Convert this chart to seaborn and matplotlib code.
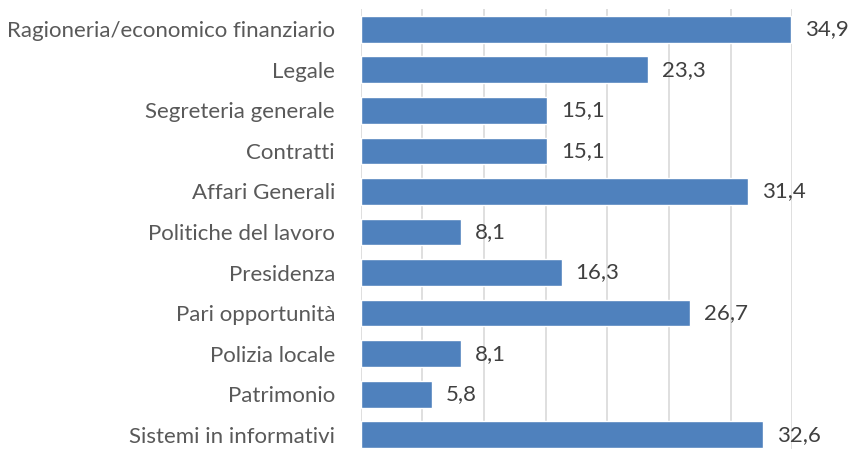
import seaborn as sns
from matplotlib import pyplot as plt
import pandas as pd

# Dati
categorie = ["Ragioneria/economico finanziario", "Legale", "Segreteria generale",
             "Contratti", "Affari Generali", "Politiche del lavoro", "Presidenza",
             "Pari opportunità", "Polizia locale", "Patrimonio", "Sistemi in informativi"]
valori = [34.9, 23.3, 15.1, 15.1, 31.4, 8.1, 16.3, 26.7, 8.1, 5.8, 32.6]
etichette = ["34,9", "23,3", "15,1", "15,1", "31,4", "8,1", "16,3", "26,7", "8,1", "5,8", "32,6"]

df = pd.DataFrame({"categoria": categorie, "valore": valori})

sns.set_style("white")
plt.rcParams['font.family'] = ['Lato', 'DejaVu Sans']

fig = plt.figure(figsize=(8.52, 4.49), dpi=100)
# asse: da x=360.7 a 792.3 px, y da 9 a 455 px
ax = fig.add_axes([360.7 / 852, (449 - 455) / 449, (792.3 - 360.7) / 852, 446 / 449])

sns.barplot(data=df, x="valore", y="categoria", color="#4F81BD", saturation=1,
            width=0.66, ax=ax)

ax.set_xlim(0, 35)
ax.set_xticks(range(0, 36, 5))
ax.xaxis.grid(True, color="#D9D9D9", linewidth=1.2)
ax.set_axisbelow(True)
ax.tick_params(axis="x", bottom=False, labelbottom=False)
ax.tick_params(axis="y", left=False, labelsize=16, labelcolor="#595959", pad=15)
for s in ax.spines.values():
    s.set_visible(False)
ax.set_xlabel("")
ax.set_ylabel("")

# etichette dei valori
for i, (v, t) in enumerate(zip(valori, etichette)):
    ax.annotate(t, (v, i), xytext=(10, 0), textcoords="offset points",
                va="center", ha="left", fontsize=16, color="#404040",
                annotation_clip=False)

fig.savefig("out.png", dpi=100)
